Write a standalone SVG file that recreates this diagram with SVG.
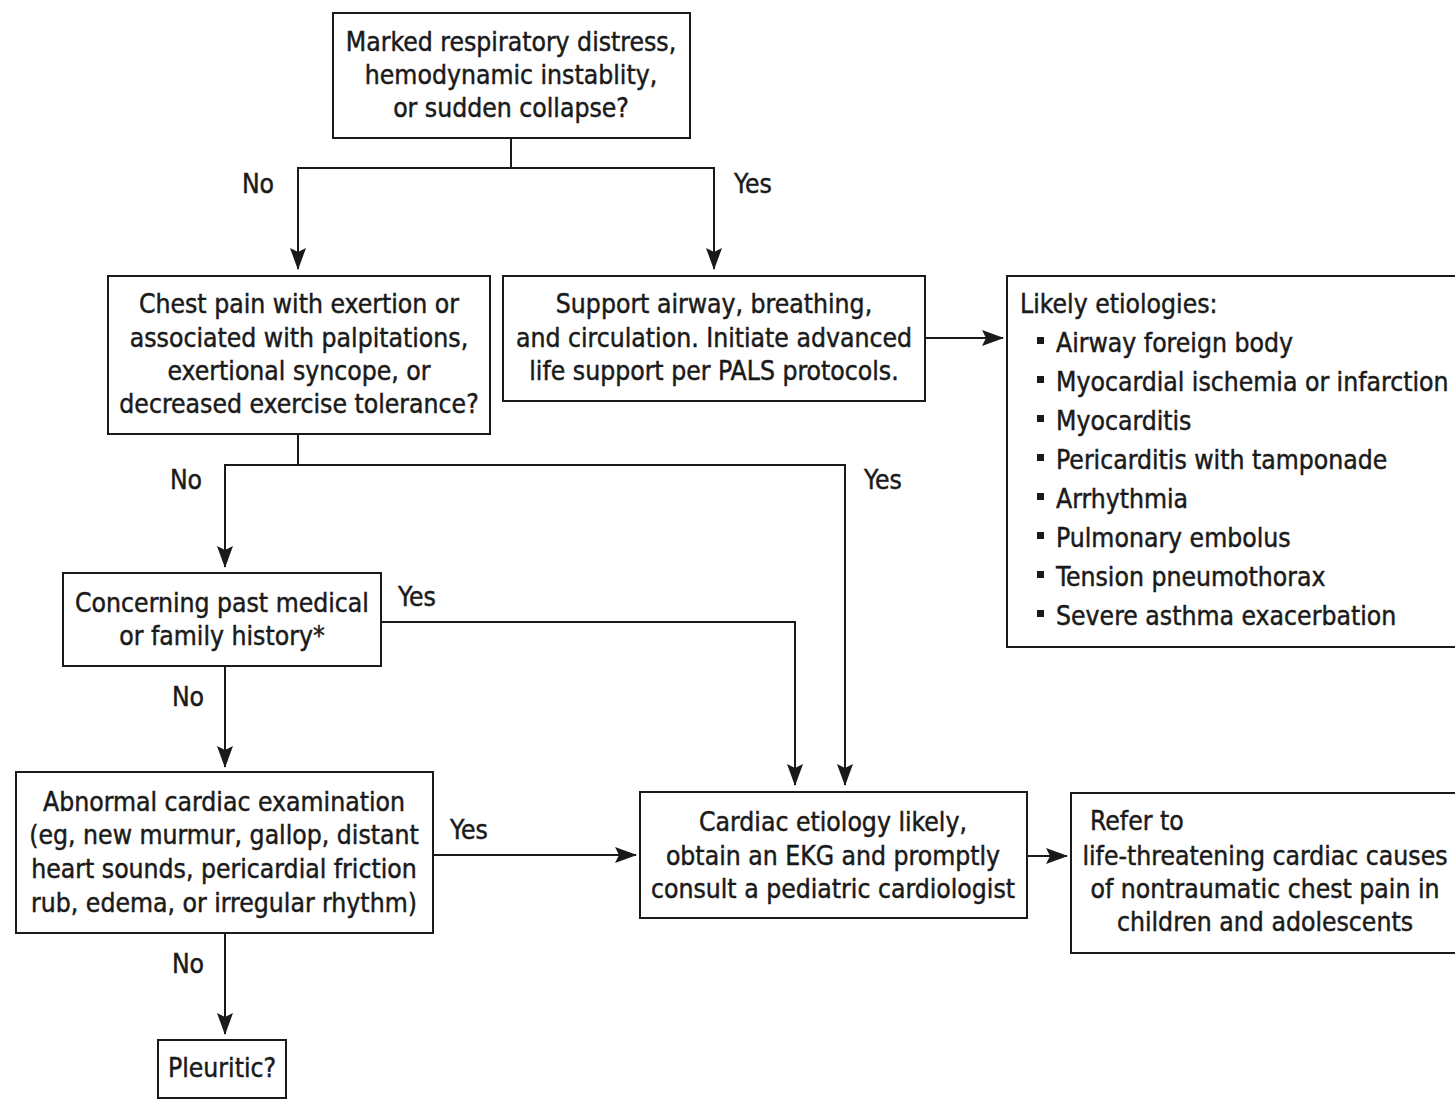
<svg xmlns="http://www.w3.org/2000/svg" width="1455" height="1099" viewBox="0 0 1455 1099">
<style>
text{font-family:"DejaVu Sans Condensed","DejaVu Sans",sans-serif;font-size:26.3px;fill:#1a1a1a;stroke:#1a1a1a;stroke-width:0.45}
.c{text-anchor:middle}
.box{fill:#fff;stroke:#1a1a1a;stroke-width:2}
.ln{fill:none;stroke:#1a1a1a;stroke-width:2}
</style>
<defs>
<marker id="ah" markerWidth="22" markerHeight="16" viewBox="0 0 22 16" refX="21" refY="8" orient="auto" markerUnits="userSpaceOnUse">
<path d="M0,0 L22,8 L0,16 L4,8 Z" fill="#1a1a1a"/>
</marker>
</defs>
<rect width="1455" height="1099" fill="#fff"/>
<g id="connectors">
<path class="ln" d="M511,138 V168 H298 V269" marker-end="url(#ah)"/>
<path class="ln" d="M511,168 H714 V269" marker-end="url(#ah)"/>
<path class="ln" d="M925,338 H1003" marker-end="url(#ah)"/>
<path class="ln" d="M298,434 V465 H225 V567" marker-end="url(#ah)"/>
<path class="ln" d="M298,465 H845 V785" marker-end="url(#ah)"/>
<path class="ln" d="M381,622 H795 V785" marker-end="url(#ah)"/>
<path class="ln" d="M225,666 V767" marker-end="url(#ah)"/>
<path class="ln" d="M433,855 H636" marker-end="url(#ah)"/>
<path class="ln" d="M225,933 V1034" marker-end="url(#ah)"/>
<path class="ln" d="M1027,856 H1067" marker-end="url(#ah)"/>
<text x="258" y="193" class="c">No</text>
<text x="753" y="193" class="c">Yes</text>
<text x="186" y="489" class="c">No</text>
<text x="883" y="489" class="c">Yes</text>
<text x="417" y="606" class="c">Yes</text>
<text x="188" y="706" class="c">No</text>
<text x="469" y="839" class="c">Yes</text>
<text x="188" y="973" class="c">No</text>
</g>
<g id="n1">
<rect class="box" x="333" y="13" width="357" height="125"/>
<text class="c" x="511" y="51">Marked respiratory distress,</text>
<text class="c" x="511" y="84">hemodynamic instablity,</text>
<text class="c" x="511" y="117">or sudden collapse?</text>
</g>
<g id="n2">
<rect class="box" x="108" y="276" width="382" height="158"/>
<text class="c" x="299" y="313">Chest pain with exertion or</text>
<text class="c" x="299" y="347">associated with palpitations,</text>
<text class="c" x="299" y="380">exertional syncope, or</text>
<text class="c" x="299" y="413">decreased exercise tolerance?</text>
</g>
<g id="n3">
<rect class="box" x="503" y="276" width="422" height="125"/>
<text class="c" x="714" y="313">Support airway, breathing,</text>
<text class="c" x="714" y="347">and circulation. Initiate advanced</text>
<text class="c" x="714" y="380">life support per PALS protocols.</text>
</g>
<g id="n4">
<rect class="box" x="1007" y="276" width="460" height="371"/>
<text x="1020" y="313">Likely etiologies:</text>
<g fill="#1a1a1a">
<rect x="1037" y="337" width="7" height="7"/>
<rect x="1037" y="376" width="7" height="7"/>
<rect x="1037" y="415" width="7" height="7"/>
<rect x="1037" y="454" width="7" height="7"/>
<rect x="1037" y="493" width="7" height="7"/>
<rect x="1037" y="532" width="7" height="7"/>
<rect x="1037" y="571" width="7" height="7"/>
<rect x="1037" y="610" width="7" height="7"/>
</g>
<text x="1056" y="352">Airway foreign body</text>
<text x="1056" y="391">Myocardial ischemia or infarction</text>
<text x="1056" y="430">Myocarditis</text>
<text x="1056" y="469">Pericarditis with tamponade</text>
<text x="1056" y="508">Arrhythmia</text>
<text x="1056" y="547">Pulmonary embolus</text>
<text x="1056" y="586">Tension pneumothorax</text>
<text x="1056" y="625">Severe asthma exacerbation</text>
</g>
<g id="n5">
<rect class="box" x="63" y="573" width="318" height="93"/>
<text class="c" x="222" y="612">Concerning past medical</text>
<text class="c" x="222" y="645">or family history*</text>
</g>
<g id="n6">
<rect class="box" x="16" y="772" width="417" height="161"/>
<text class="c" x="224" y="811">Abnormal cardiac examination</text>
<text class="c" x="224" y="844">(eg, new murmur, gallop, distant</text>
<text class="c" x="224" y="878">heart sounds, pericardial friction</text>
<text class="c" x="224" y="912">rub, edema, or irregular rhythm)</text>
</g>
<g id="n7">
<rect class="box" x="158" y="1040" width="128" height="58"/>
<text class="c" x="222" y="1077">Pleuritic?</text>
</g>
<g id="n8">
<rect class="box" x="640" y="792" width="387" height="126"/>
<text class="c" x="833" y="831">Cardiac etiology likely,</text>
<text class="c" x="833" y="865">obtain an EKG and promptly</text>
<text class="c" x="833" y="898">consult a pediatric cardiologist</text>
</g>
<g id="n9">
<rect class="box" x="1071" y="793" width="400" height="160"/>
<text x="1090" y="830">Refer to</text>
<text class="c" x="1265" y="865">life-threatening cardiac causes</text>
<text class="c" x="1265" y="898">of nontraumatic chest pain in</text>
<text class="c" x="1265" y="931">children and adolescents</text>
</g>
</svg>
